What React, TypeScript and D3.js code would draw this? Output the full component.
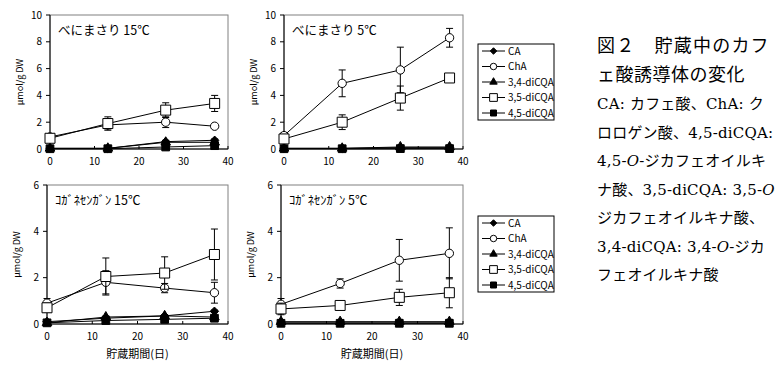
import * as d3 from 'd3'

// storage days
const days = [0, 13, 26, 37]

const seriesNames = ['CA', 'ChA', '3,4-diCQA', '3,5-diCQA', '4,5-diCQA']

// panel 1: べにまさり 15℃
const beni15 = [
  [0.05, 0.05, 0.55, 0.65],
  [0.9, 1.8, 2.0, 1.7],
  [0.05, 0.05, 0.5, 0.5],
  [0.8, 1.9, 2.9, 3.4],
  [0.02, 0.02, 0.15, 0.25],
]
const beni15Err = [
  [0, 0, 0.1, 0.1],
  [0.2, 0.3, 0.4, 0.1],
  [0, 0, 0.1, 0.1],
  [0.2, 0.5, 0.55, 0.6],
  [0, 0, 0, 0],
]

// panel 2: べにまさり 5℃
const beni5 = [
  [0.05, 0.05, 0.1, 0.1],
  [1.0, 4.9, 5.9, 8.3],
  [0.05, 0.05, 0.15, 0.15],
  [0.75, 2.0, 3.8, 5.3],
  [0.02, 0.02, 0.03, 0.03],
]
const beni5Err = [
  [0, 0, 0.1, 0],
  [0.2, 1.0, 1.7, 0.7],
  [0, 0, 0, 0],
  [0.2, 0.55, 0.9, 0.1],
  [0, 0, 0, 0],
]

// panel 3: コガネセンガン 15℃
const koga15 = [
  [0.1, 0.25, 0.35, 0.55],
  [0.9, 1.8, 1.55, 1.35],
  [0.05, 0.3, 0.35, 0.3],
  [0.7, 2.05, 2.2, 3.0],
  [0.05, 0.15, 0.2, 0.25],
]
const koga15Err = [
  [0, 0, 0, 0.05],
  [0.2, 0.5, 0.2, 0.45],
  [0, 0.05, 0.05, 0],
  [0.2, 0.8, 0.7, 1.1],
  [0, 0, 0, 0],
]

// panel 4: コガネセンガン 5℃
const koga5 = [
  [0.05, 0.05, 0.05, 0.05],
  [0.85, 1.75, 2.75, 3.05],
  [0.1, 0.1, 0.1, 0.1],
  [0.65, 0.8, 1.15, 1.35],
  [0.03, 0.03, 0.03, 0.03],
]
const koga5Err = [
  [0, 0, 0, 0],
  [0.25, 0.2, 0.9, 1.1],
  [0, 0, 0.1, 0.1],
  [0.25, 0.05, 0.35, 0.65],
  [0, 0, 0, 0],
]

const xTicks = [0, 10, 20, 30, 40]
const yTicksTop = [0, 2, 4, 6, 8, 10]
const yTicksBottom = [0, 2, 4, 6]

const caption = [
  '図２　貯蔵中のカフ',
  'ェ酸誘導体の変化',
  'CA: カフェ酸、ChA: ク',
  'ロロゲン酸、4,5-diCQA:',
  '4,5-O-ジカフェオイルキ',
  'ナ酸、3,5-diCQA: 3,5-O-',
  'ジカフェオイルキナ酸、',
  '3,4-diCQA:  3,4-O-ジカ',
  'フェオイルキナ酸',
]

const font = "'Noto Sans CJK JP', 'DejaVu Sans', sans-serif"
const captionFont = "'DejaVu Serif', 'Noto Sans CJK JP', serif"

const symbols = [
  { type: d3.symbolDiamond2, size: 45, fill: '#000' },
  { type: d3.symbolCircle, size: 55, fill: '#fff' },
  { type: d3.symbolTriangle, size: 40, fill: '#000' },
  { type: d3.symbolSquare, size: 100, fill: '#fff' },
  { type: d3.symbolSquare, size: 60, fill: '#000' },
]

interface PanelProps {
  x0: number
  x1: number
  y0: number
  y1: number
  yMax: number
  yTicks: number[]
  title: string
  values: number[][]
  errors: number[][]
  xTitle?: boolean
}

function Panel({ x0, x1, y0, y1, yMax, yTicks, title, values, errors, xTitle }: PanelProps) {
  const xScale = d3.scaleLinear().domain([0, 40]).range([x0, x1])
  const yScale = d3.scaleLinear().domain([0, yMax]).range([y0, y1])
  const line = d3
    .line<number>()
    .x((_, i) => xScale(days[i]))
    .y((d) => yScale(d))

  return (
    <g>
      {/* plot area border */}
      <rect x={x0} y={y1} width={x1 - x0} height={y0 - y1} fill="none" stroke="#808080" strokeWidth={1} />
      <line x1={x0} x2={x0} y1={y1} y2={y0} stroke="#000" />
      <line x1={x0} x2={x1} y1={y0} y2={y0} stroke="#000" />
      {yTicks.map((t) => (
        <g key={'y' + t}>
          <line x1={x0 - 4} x2={x0} y1={yScale(t)} y2={yScale(t)} stroke="#000" />
          <text x={x0 - 8} y={yScale(t) + 3.5} fontSize={10} textAnchor="end" fontFamily={font}>
            {t}
          </text>
        </g>
      ))}
      {xTicks.map((t) => (
        <g key={'x' + t}>
          <line x1={xScale(t)} x2={xScale(t)} y1={y0} y2={y0 - 3} stroke="#000" />
          <text x={xScale(t)} y={y0 + 16} fontSize={10} textAnchor="middle" fontFamily={font}>
            {t}
          </text>
        </g>
      ))}
      <text
        transform={`translate(${x0 - 27},${(y0 + y1) / 2}) rotate(-90)`}
        fontSize={9}
        textAnchor="middle"
        fontFamily={font}
      >
        μmol/g DW
      </text>
      <text x={x0 + 8} y={y1 + 20} fontSize={12.5} fontFamily={font}>
        {title}
      </text>
      {xTitle && (
        <text x={(x0 + x1) / 2} y={y0 + 34} fontSize={11} textAnchor="middle" fontFamily={font}>
          貯蔵期間(日)
        </text>
      )}
      {values.map((vals, si) => (
        <g key={si}>
          {vals.map((v, i) =>
            errors[si][i] > 0 ? (
              <g key={i} stroke="#000">
                <line x1={xScale(days[i])} x2={xScale(days[i])} y1={yScale(v - errors[si][i])} y2={yScale(v + errors[si][i])} />
                <line x1={xScale(days[i]) - 3.5} x2={xScale(days[i]) + 3.5} y1={yScale(v - errors[si][i])} y2={yScale(v - errors[si][i])} />
                <line x1={xScale(days[i]) - 3.5} x2={xScale(days[i]) + 3.5} y1={yScale(v + errors[si][i])} y2={yScale(v + errors[si][i])} />
              </g>
            ) : null
          )}
          <path d={line(vals) ?? ''} fill="none" stroke="#000" strokeWidth={1} />
          {vals.map((v, i) => (
            <path
              key={'m' + i}
              transform={`translate(${xScale(days[i])},${yScale(v)})`}
              d={d3.symbol(symbols[si].type, symbols[si].size)() ?? ''}
              fill={symbols[si].fill}
              stroke="#000"
            />
          ))}
        </g>
      ))}
    </g>
  )
}

function Legend({ x, y }: { x: number; y: number }) {
  const rowH = 15.5
  return (
    <g>
      <rect x={x} y={y} width={76} height={76} fill="#fff" stroke="#000" />
      {seriesNames.map((name, i) => {
        const cy = y + 7 + i * rowH
        return (
          <g key={name}>
            <line x1={x + 4} x2={x + 27} y1={cy} y2={cy} stroke="#000" />
            <path
              transform={`translate(${x + 15.5},${cy})`}
              d={d3.symbol(symbols[i].type, symbols[i].size * 0.6)() ?? ''}
              fill={symbols[i].fill}
              stroke="#000"
            />
            <text x={x + 30} y={cy + 3.5} fontSize={10} fontFamily={font}>
              {name}
            </text>
          </g>
        )
      })}
    </g>
  )
}

export default function App() {
  return (
    <svg width={775} height={369} style={{ position: 'absolute', left: 0, top: 0, background: '#fff' }}>
      <rect width={775} height={369} fill="#fff" />
      <Panel x0={50} x1={228} y0={149} y1={15} yMax={10} yTicks={yTicksTop} title="べにまさり 15℃" values={beni15} errors={beni15Err} />
      <Panel x0={284} x1={463} y0={149} y1={15} yMax={10} yTicks={yTicksTop} title="べにまさり 5℃" values={beni5} errors={beni5Err} />
      <Panel x0={47} x1={228} y0={324} y1={185} yMax={6} yTicks={yTicksBottom} title="ｺｶﾞﾈｾﾝｶﾞﾝ 15℃" values={koga15} errors={koga15Err} xTitle />
      <Panel x0={281} x1={463} y0={324} y1={185} yMax={6} yTicks={yTicksBottom} title="ｺｶﾞﾈｾﾝｶﾞﾝ 5℃" values={koga5} errors={koga5Err} xTitle />
      <Legend x={478} y={44} />
      <Legend x={478} y={216} />
      {caption.map((line, i) => (
        <text
          key={i}
          x={597}
          y={52 + i * 28.5}
          fontSize={i < 2 ? 18 : 15}
          fontFamily={i < 2 ? font : captionFont}
          letterSpacing={i === 0 ? 1.2 : i === 1 ? 0.5 : 0.2}
        >
          {line.split(/(O)/).map((part, j) =>
            part === 'O' ? (
              <tspan key={j} fontStyle="italic">
                O
              </tspan>
            ) : (
              part
            )
          )}
        </text>
      ))}
    </svg>
  )
}
